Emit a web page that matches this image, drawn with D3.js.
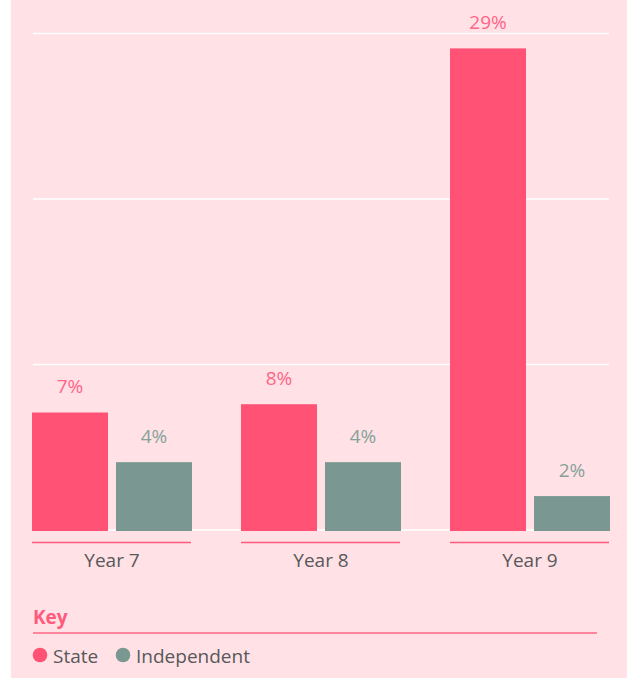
<!DOCTYPE html>
<html>
<head>
<meta charset="utf-8">
<script src="https://cdn.jsdelivr.net/npm/d3@7"></script>
<style>
  html, body { margin: 0; padding: 0; background: #ffffff; }
  svg { display: block; font-family: "Open Sans", sans-serif; }
</style>
</head>
<body>
<svg id="chart" width="627" height="678"></svg>
<script>
const categories = ["Year 7", "Year 8", "Year 9"];
const seriesNames = ["State", "Independent"];
const stateValues = [7.1, 7.6, 29.1];
const independentValues = [4.1, 4.1, 2.05];
const yTicks = [0, 10, 20, 30];

const colors = { State: "#FF5274", Independent: "#7A9891" };
const labelColors = { State: "#FF6586", Independent: "#86A199" };

const svg = d3.select("#chart");
const W = 627, H = 678;

svg.append("rect").attr("x", 11).attr("y", 0).attr("width", W - 11).attr("height", H).attr("fill", "#FFE1E6");

const x0 = d3.scaleBand().domain(categories).range([32, 610]).paddingInner(49 / 209).paddingOuter(0);
const x1 = d3.scaleBand().domain(seriesNames).range([0, x0.bandwidth()]).paddingInner(8 / 84).paddingOuter(0);
const y = d3.scaleLinear().domain([0, 30]).range([530, 33.5]);

// gridlines
svg.append("g").selectAll("line").data(yTicks).join("line")
  .attr("x1", 33).attr("x2", 609)
  .attr("y1", d => y(d)).attr("y2", d => y(d))
  .attr("stroke", "#ffffff").attr("stroke-width", 1.6);

const data = categories.map((c, i) => ({
  cat: c,
  values: [
    { series: "State", value: stateValues[i] },
    { series: "Independent", value: independentValues[i] }
  ]
}));

const groups = svg.append("g").selectAll("g").data(data).join("g")
  .attr("transform", d => `translate(${x0(d.cat)},0)`);

groups.selectAll("rect").data(d => d.values).join("rect")
  .attr("x", d => x1(d.series))
  .attr("y", d => y(d.value))
  .attr("width", x1.bandwidth())
  .attr("height", d => y(0) + 1 - y(d.value))
  .attr("fill", d => colors[d.series]);

groups.selectAll("text.val").data(d => d.values).join("text")
  .attr("class", "val")
  .attr("x", d => x1(d.series) + x1.bandwidth() / 2)
  .attr("y", d => y(d.value) - 19.5)
  .attr("text-anchor", "middle")
  .attr("font-size", 19)
  .attr("fill", d => labelColors[d.series])
  .text(d => Math.round(d.value) + "%");

groups.append("line")
  .attr("x1", 0).attr("x2", x0.bandwidth() - 1)
  .attr("y1", 542.5).attr("y2", 542.5)
  .attr("stroke", "#FF5A7C").attr("stroke-width", 1.5);

groups.append("text")
  .attr("x", x0.bandwidth() / 2)
  .attr("y", 567)
  .attr("text-anchor", "middle")
  .attr("font-size", 19)
  .attr("fill", "#58585A")
  .text(d => d.cat);

// key
svg.append("text").attr("x", 33).attr("y", 623.5)
  .attr("font-size", 19).attr("font-weight", "bold").attr("fill", "#FF5A7C").text("Key");
svg.append("line").attr("x1", 33).attr("x2", 597).attr("y1", 633).attr("y2", 633)
  .attr("stroke", "#FF6586").attr("stroke-width", 1.5);

const legendX = [40, 123];
const leg = svg.append("g").selectAll("g").data(seriesNames).join("g")
  .attr("transform", (d, i) => `translate(${legendX[i]},655)`);
leg.append("circle").attr("r", 7.3).attr("fill", d => colors[d]);
leg.append("text").attr("x", 13).attr("y", 7.5)
  .attr("font-size", 19).attr("fill", "#58585A").text(d => d);
</script>
</body>
</html>
